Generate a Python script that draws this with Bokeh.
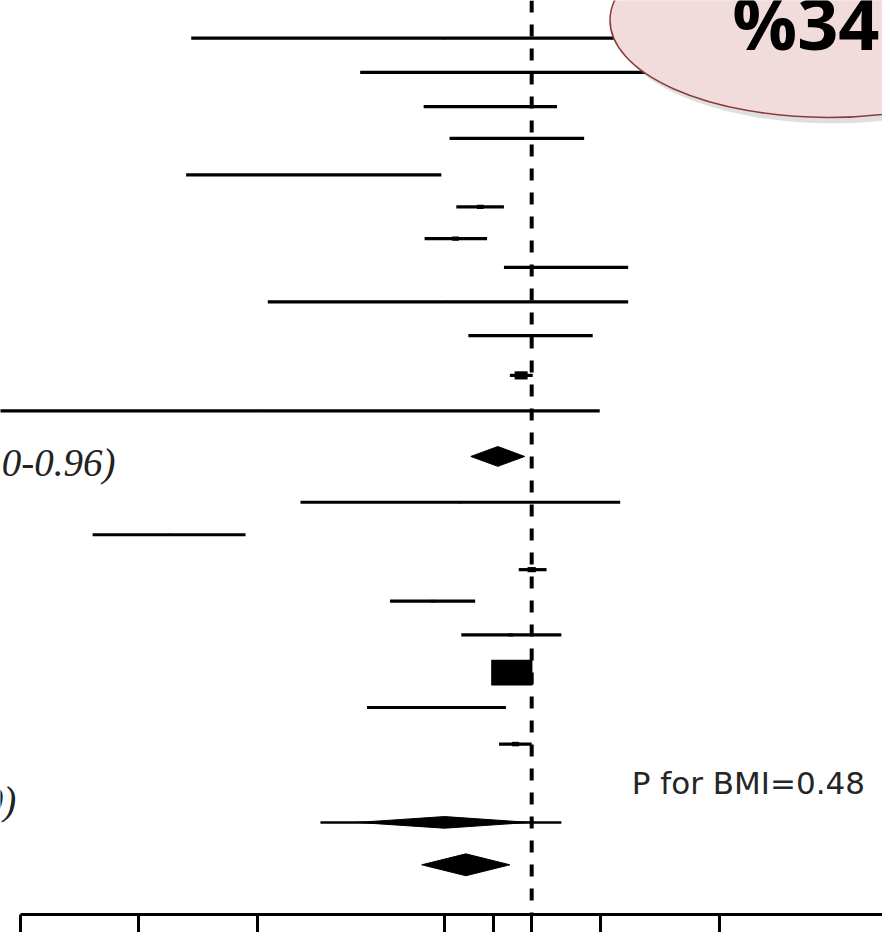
import numpy as np
from bokeh.plotting import figure
from bokeh.models import Range1d, FixedTicker, Span, ColumnDataSource, CustomJSTickFormatter
from bokeh.embed import file_html
from bokeh.resources import INLINE
from bokeh.core.properties import value

# ---------------- data ----------------
# individual studies, top to bottom: row position, odds ratio, 95% CI, weight (%)
study_row = [0, 1, 2, 2.93, 4, 4.93, 5.86, 6.70, 7.71, 8.70, 9.86, 10.90,
             13.57, 14.52, 15.54, 16.46, 17.45, 18.55, 19.57, 20.64]
study_or = [0.60, 0.97, 0.78, 0.92, 0.28, 0.74, 0.64, 1.20, 0.61, 0.99, 0.94, 0.20,
            0.66, 0.12, 1.00, 0.56, 0.885, 0.89, 0.573, 0.91]
study_lo = [0.136, 0.366, 0.531, 0.618, 0.132, 0.643, 0.534, 0.850, 0.213, 0.690, 0.880, 0.030,
            0.258, 0.0763, 0.927, 0.436, 0.662, 0.80, 0.381, 0.826]
study_hi = [2.6, 2.6, 1.16, 1.36, 0.589, 0.850, 0.770, 1.76, 1.76, 1.43, 1.006, 1.49,
            1.68, 0.187, 1.091, 0.718, 1.19, 0.99, 0.860, 1.00]
study_weight = [0.2, 0.2, 0.3, 0.3, 0.2, 0.8, 0.8, 0.3, 0.2, 0.3, 3.0, 0.2,
                0.2, 0.2, 1.2, 0.3, 0.4, 30.0, 0.3, 0.9]

# pooled estimates (diamonds)
sum_row = [12.23, 22.93, 24.17]
sum_or = [0.82, 0.60, 0.68]
sum_lo = [0.70, 0.36, 0.525]
sum_hi = [0.96, 0.99, 0.88]
# interval line drawn through the second pooled estimate
int_lo = [0.29]
int_hi = [1.19]

tick_values = [0.05, 0.1, 0.2, 0.6, 0.8, 1, 1.5, 3]

label_first = "0-0.96)"
label_second = "9)"
p_text = "P for BMI=0.48"
callout_text = "%34"

# ---------------- layout helpers (reference-pixel based) ----------------
PX_PER_DECADE = 396.5
X_ONE_PX = 536.0          # reference pixel of OR = 1
ROW_PX = 34.5             # reference pixels per row
ROW0_PX = 38.0            # reference pixel of row 0
W, H = 882, 932
S = W / 890.0             # reference -> figure scale


def xdata(px):
    return 10 ** ((px - X_ONE_PX) / PX_PER_DECADE)


def ydata(py):
    return (py - ROW0_PX) / ROW_PX


def base(py, size):
    # compensate the renderer's alphabetic-baseline offset
    return ydata(py - 0.43 * size / S)


p = figure(width=W, height=H, x_axis_type="log",
           x_range=Range1d(xdata(0), xdata(890)),
           y_range=Range1d(ydata(922), ydata(0)),
           y_axis_location=None, output_backend="svg", toolbar_location=None,
           min_border_left=0, min_border_right=0, min_border_top=0, min_border_bottom=0)
p.outline_line_color = None
p.grid.visible = False
p.background_fill_color = "white"

ax = p.xaxis[0]
ax.ticker = FixedTicker(ticks=tick_values)
ax.formatter = CustomJSTickFormatter(code='return "";')
ax.major_label_text_font_size = "0px"
ax.major_label_standoff = 0
ax.major_tick_out = 18
ax.major_tick_in = 0
ax.minor_tick_line_color = None
ax.axis_line_width = 3
ax.major_tick_line_width = 3
ax.axis_line_color = "black"
ax.major_tick_line_color = "black"
ax.bounds = (tick_values[0], xdata(890))

# null line
p.add_layout(Span(location=1, dimension="height", line_color="black",
                  line_width=4, line_dash="12 12"))

# study CIs and weight boxes
src = ColumnDataSource(dict(
    row=study_row, est=study_or, lo=study_lo, hi=study_hi,
    h=[S * 4.75 * np.sqrt(w) for w in study_weight],
    w=[S * 1.6 * 4.75 * np.sqrt(w) for w in study_weight]))
p.segment(x0="lo", x1="hi", y0="row", y1="row", source=src,
          line_color="black", line_width=3.2)
p.rect(x="est", y="row", width="w", height="h", width_units="screen",
       height_units="screen", source=src, fill_color="black", line_color=None)

# interval through second pooled estimate
p.segment(x0=int_lo, x1=int_hi, y0=[sum_row[1]], y1=[sum_row[1]],
          line_color="black", line_width=2.5)

# diamonds
half_h = [0.29, 0.17, 0.32]
xs = [[lo, e, hi, e] for lo, e, hi in zip(sum_lo, sum_or, sum_hi)]
ys = [[r, r - hh, r, r + hh] for r, hh in zip(sum_row, half_h)]
p.patches(xs=xs, ys=ys, fill_color="black", line_color="black", line_width=1)

# labels (partially cropped in the reference)
p.text(x=[xdata(116)], y=[base(483, 39)], text=[label_first], text_align="right",
       text_baseline="alphabetic", text_font=value("Liberation Serif"),
       text_font_style="italic", text_font_size="39px", text_color="#222222")
p.text(x=[xdata(16)], y=[base(824, 39)], text=[label_second], text_align="right",
       text_baseline="alphabetic", text_font=value("Liberation Serif"),
       text_font_style="italic", text_font_size="39px", text_color="#222222")
p.text(x=[xdata(637)], y=[base(803, 31)], text=[p_text], text_align="left",
       text_baseline="alphabetic", text_font=value("DejaVu Sans"),
       text_font_size="31px", text_color="#262626")

# callout ellipse
p.ellipse(x=[xdata(840)], y=[ydata(26)], width=440 * S, height=196 * S,
          width_units="screen", height_units="screen",
          fill_color="#7f7f7f", fill_alpha=0.25, line_color=None)
p.ellipse(x=[xdata(835)], y=[ydata(20)], width=440 * S, height=196 * S,
          width_units="screen", height_units="screen",
          fill_color="#F2DCDB", line_color="#8B3A3A", line_width=1.5)
p.text(x=[xdata(887)], y=[base(53, 72)], text=[callout_text], text_align="right",
       text_baseline="alphabetic", text_font=value("Open Sans"),
       text_font_style="bold", text_font_size="72px", text_color="black")

open("out.html", "w").write(file_html(p, INLINE))
